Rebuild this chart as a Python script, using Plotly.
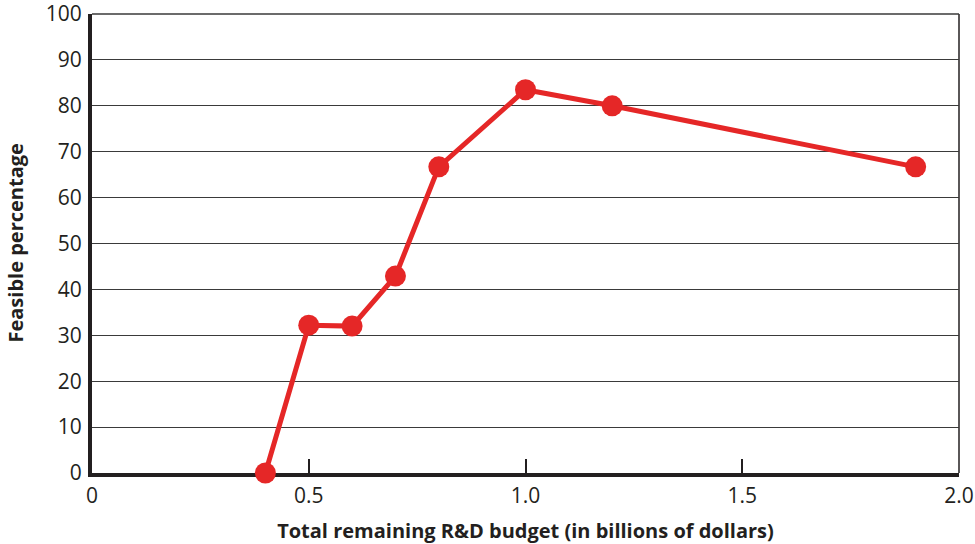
import plotly.graph_objects as go

# R&D budget (billions of dollars) vs. feasible percentage
budget = [0.4, 0.5, 0.6, 0.7, 0.8, 1.0, 1.2, 1.9]
feasible = [0, 32.2, 32.0, 42.9, 66.7, 83.5, 80.0, 66.7]

x_ticks = [0, 0.5, 1.0, 1.5, 2.0]
x_tick_text = ["0", "0.5", "1.0", "1.5", "2.0"]
y_ticks = list(range(0, 101, 10))

RED = "#e52727"
INK = "#231f20"
GRID = "#3a3a3a"
FONT = "Open Sans, Noto Sans, sans-serif"

fig = go.Figure()
fig.add_trace(go.Scatter(
    x=budget, y=feasible, mode="lines+markers",
    line=dict(color=RED, width=5),
    marker=dict(color=RED, size=21),
    cliponaxis=False, showlegend=False,
))

# thin frame lines along the right and top edges
fig.add_shape(type="line", xref="paper", yref="paper", x0=1, x1=1, y0=0, y1=1,
              line=dict(color=INK, width=1.5), layer="between")
fig.add_shape(type="line", xref="paper", yref="paper", x0=0, x1=1, y0=1, y1=1,
              line=dict(color=GRID, width=1.3), layer="between")

# vertical axis title
fig.add_annotation(text="<b>Feasible percentage</b>", textangle=-90,
                   xref="paper", yref="paper", x=0, y=0.5, xshift=-77,
                   xanchor="center", yanchor="middle",
                   showarrow=False, font=dict(size=20, color=INK))

fig.update_layout(
    width=975, height=544, autosize=False,
    margin=dict(l=92, r=16, t=14, b=71, autoexpand=False),
    paper_bgcolor="white", plot_bgcolor="white",
    font=dict(family=FONT, color=INK, size=21),
    xaxis=dict(
        range=[0, 2.0], tickvals=x_ticks, ticktext=x_tick_text,
        showgrid=False, zeroline=False, automargin=False, layer="below traces",
        showline=True, linecolor=INK, linewidth=4,
        ticks="inside", ticklen=14, tickwidth=1.5, tickcolor=INK,
        tickfont=dict(size=21), ticklabelstandoff=1, ticklabeloverflow="allow",
        title=dict(text="<b>Total remaining R&D budget (in billions of dollars)</b>",
                   font=dict(size=20), standoff=20),
    ),
    yaxis=dict(
        range=[0, 100], tickvals=y_ticks, automargin=False, layer="below traces",
        showgrid=True, gridcolor=GRID, gridwidth=1.3,
        zeroline=False,
        showline=True, linecolor=INK, linewidth=4,
        ticks="", tickfont=dict(size=21), ticklabelstandoff=2, ticklabeloverflow="allow",
    ),
)

fig.write_html("out.html")
